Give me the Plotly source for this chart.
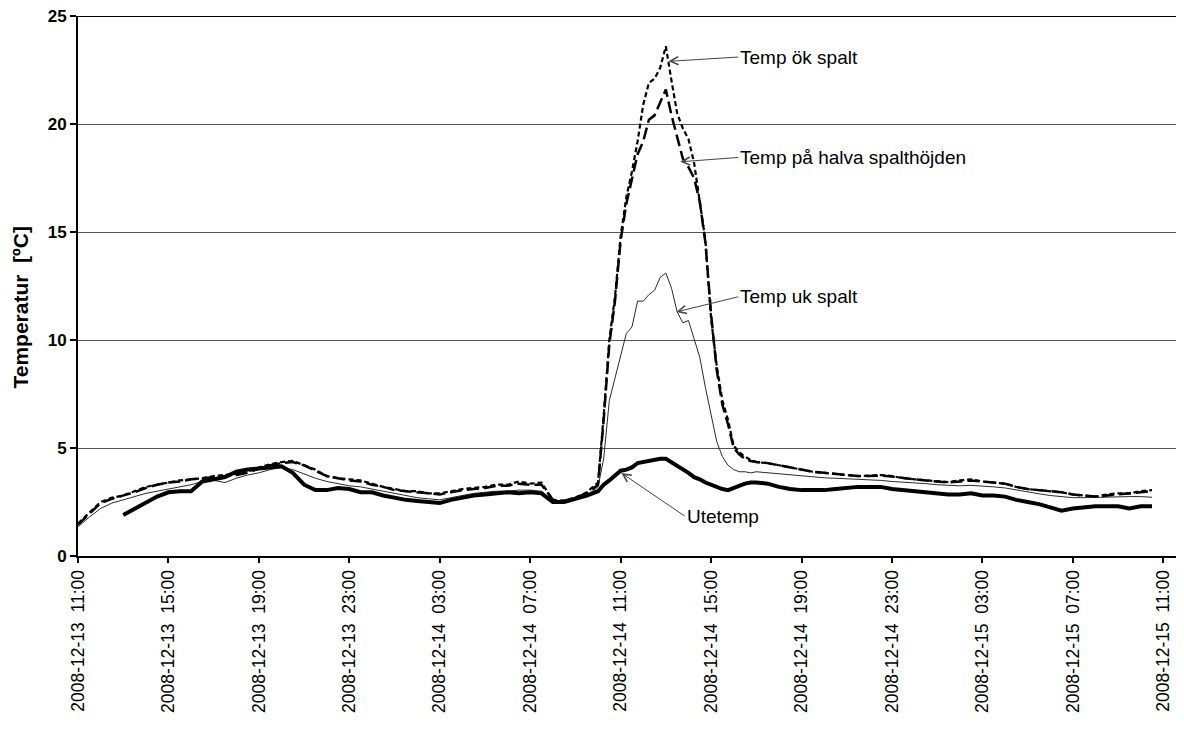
import numpy as np
import pandas as pd
import plotly.graph_objects as go

# time grid: half-hourly, quarter-hourly around the midday peak on 12-14
TIMES = list(pd.date_range("2008-12-13 11:00", "2008-12-14 09:30", freq="30min")) \
    + list(pd.date_range("2008-12-14 10:00", "2008-12-14 16:45", freq="15min")) \
    + list(pd.date_range("2008-12-14 17:00", "2008-12-15 10:30", freq="30min"))

N = None
UTETEMP = [
    N, N, N, N, 1.9, 2.2, 2.5, 2.75, 2.95, 3.0, 3.0, 3.45, 3.55, 3.65, 3.9, 4.0,
    4.05, 4.1, 4.15, 3.85, 3.3, 3.05, 3.05, 3.15, 3.1, 2.95, 2.95, 2.8, 2.7, 2.6,
    2.55, 2.5, 2.45, 2.6, 2.7, 2.8, 2.85, 2.9, 2.95, 2.9, 2.95, 2.9, 2.5, 2.5, 2.65, 2.8,
    # peak window
    3.0, 3.3, 3.5, 3.75, 3.95, 4.0, 4.1, 4.3, 4.35, 4.4, 4.45, 4.5, 4.5, 4.35,
    4.2, 4.0, 3.85, 3.65, 3.55, 3.4, 3.3, 3.2, 3.1, 3.05, 3.15, 3.25, 3.35, 3.4,
    # afternoon 12-14 -> 12-15
    3.4, 3.35, 3.2, 3.1, 3.05, 3.05, 3.05, 3.1, 3.15, 3.2, 3.2, 3.2, 3.1, 3.05,
    3.0, 2.95, 2.9, 2.85, 2.85, 2.9, 2.8, 2.8, 2.75, 2.6, 2.5, 2.4, 2.25, 2.1,
    2.2, 2.25, 2.3, 2.3, 2.3, 2.2, 2.3, 2.3,
]
UK_SPALT = [
    1.35, 1.8, 2.2, 2.45, 2.6, 2.75, 2.9, 3.0, 3.1, 3.2, 3.3, 3.45, 3.5, 3.4, 3.6, 3.75,
    3.85, 4.0, 4.1, 4.0, 3.8, 3.6, 3.45, 3.35, 3.25, 3.2, 3.1, 3.0, 2.9, 2.8,
    2.7, 2.65, 2.6, 2.7, 2.8, 2.9, 2.95, 3.0, 3.0, 3.05, 3.05, 3.0, 2.55, 2.5, 2.65, 2.8,
    3.2, 4.5, 7.2, 8.2, 9.2, 10.3, 10.6, 11.8, 11.8, 12.1, 12.3, 12.9, 13.1, 12.4,
    11.3, 10.8, 10.9, 10.1, 9.2, 7.8, 6.6, 5.3, 4.6, 4.2, 4.0, 3.9, 3.9, 3.85,
    3.9, 3.85, 3.8, 3.75, 3.7, 3.66, 3.62, 3.6, 3.58, 3.56, 3.55, 3.5, 3.45, 3.42,
    3.4, 3.35, 3.3, 3.28, 3.25, 3.27, 3.25, 3.2, 3.15, 3.05, 2.95, 2.88, 2.8, 2.75,
    2.7, 2.7, 2.72, 2.74, 2.75, 2.75, 2.75, 2.72,
]
HALVA_SPALT = [
    1.45, 1.95, 2.45, 2.65, 2.8, 2.95, 3.15, 3.3, 3.4, 3.45, 3.55, 3.6, 3.65, 3.7, 3.75, 3.85,
    4.05, 4.2, 4.3, 4.35, 4.2, 3.95, 3.7, 3.6, 3.5, 3.45, 3.3, 3.2, 3.05, 3.0,
    2.95, 2.9, 2.85, 2.95, 3.05, 3.1, 3.15, 3.25, 3.25, 3.35, 3.3, 3.3, 2.6, 2.55, 2.7, 2.9,
    3.3, 6.3, 9.8, 11.8, 14.6, 16.3, 17.4, 18.6, 19.2, 20.2, 20.4, 21.0, 21.6, 20.4,
    19.4, 18.4, 18.0, 17.5, 16.4, 14.5, 11.2, 8.6, 7.0, 6.1, 5.0, 4.7, 4.5, 4.4,
    4.35, 4.3, 4.2, 4.1, 4.0, 3.9, 3.85, 3.8, 3.75, 3.7, 3.7, 3.72, 3.68, 3.6,
    3.55, 3.5, 3.45, 3.4, 3.45, 3.5, 3.45, 3.4, 3.35, 3.2, 3.1, 3.05, 3.0, 2.95,
    2.85, 2.8, 2.75, 2.8, 2.85, 2.9, 2.95, 3.0,
]
OK_SPALT = [
    1.5, 2.0, 2.5, 2.7, 2.8, 3.0, 3.2, 3.3, 3.4, 3.5, 3.55, 3.6, 3.7, 3.75, 3.8, 3.9,
    4.1, 4.25, 4.35, 4.4, 4.2, 4.0, 3.7, 3.6, 3.55, 3.5, 3.35, 3.2, 3.1, 3.0,
    3.0, 2.9, 2.9, 3.0, 3.1, 3.15, 3.2, 3.3, 3.3, 3.45, 3.35, 3.4, 2.6, 2.55, 2.7, 2.95,
    3.4, 6.5, 10.0, 12.0, 14.8, 16.6, 17.8, 19.2, 20.9, 21.9, 22.1, 22.6, 23.6, 22.0,
    20.5, 19.8, 19.3, 18.2, 16.5, 14.6, 11.0, 8.8, 7.2, 6.3, 5.1, 4.8, 4.6, 4.45,
    4.35, 4.3, 4.2, 4.1, 4.0, 3.9, 3.85, 3.8, 3.75, 3.7, 3.72, 3.75, 3.7, 3.6,
    3.55, 3.5, 3.45, 3.42, 3.5, 3.55, 3.45, 3.4, 3.35, 3.2, 3.1, 3.05, 3.0, 2.95,
    2.85, 2.8, 2.75, 2.85, 2.9, 2.9, 3.0, 3.05,
]

TICKS = list(pd.date_range("2008-12-13 11:00", "2008-12-15 11:00", freq="4h"))
TICK_TEXT = [t.strftime("%Y-%m-%d\u00a0\u00a0%H:%M") for t in TICKS]
Y_TICKS = [0, 5, 10, 15, 20, 25]

FONT = "Liberation Sans, Arial, sans-serif"

fig = go.Figure()
fig.add_trace(go.Scatter(x=TIMES, y=UK_SPALT, mode="lines", name="Temp uk spalt",
                         line=dict(color="#2a2a2a", width=1)))
fig.add_trace(go.Scatter(x=TIMES, y=HALVA_SPALT, mode="lines", name="Temp på halva spalthöjden",
                         line=dict(color="black", width=2.5, dash="12px,5px")))
fig.add_trace(go.Scatter(x=TIMES, y=OK_SPALT, mode="lines", name="Temp ök spalt",
                         line=dict(color="black", width=2.2, dash="5px,3px")))
fig.add_trace(go.Scatter(x=TIMES, y=UTETEMP, mode="lines", name="Utetemp",
                         line=dict(color="black", width=4), connectgaps=False))

# labels with arrows: (text, point time, point value, text x, text y)
LABELS = [
    ("Temp ök spalt", "2008-12-14 13:07", 22.9, "2008-12-14 16:12", 23.1),
    ("Temp på halva spalthöjden", "2008-12-14 13:38", 18.25, "2008-12-14 16:12", 18.45),
    ("Temp uk spalt", "2008-12-14 13:28", 11.3, "2008-12-14 16:12", 12.0),
    ("Utetemp", "2008-12-14 11:02", 3.84, "2008-12-14 13:50", 1.85),
]
for text, px, py, tx, ty in LABELS:
    fig.add_annotation(x=px, y=py, ax=tx, ay=ty, axref="x", ayref="y",
                       text=text, showarrow=True, arrowhead=5, arrowsize=1.6,
                       arrowwidth=1, arrowcolor="#444", xanchor="left",
                       font=dict(family=FONT, size=19, color="black"))

fig.add_annotation(text="<b>Temperatur  [ºC]</b>", textangle=-90, showarrow=False,
                   xref="paper", yref="paper", x=-0.052, y=0.461,
                   xanchor="center", yanchor="middle",
                   font=dict(family=FONT, size=21, color="black"))

fig.add_shape(type="line", xref="paper", yref="y", x0=0, x1=1, y0=25, y1=25,
              line=dict(color="black", width=2))

fig.update_layout(
    width=1176, height=723,
    margin=dict(l=70, r=0, t=8, b=175),
    plot_bgcolor="white", paper_bgcolor="white",
    showlegend=False,
    font=dict(family=FONT, color="black"),
    xaxis=dict(
        range=["2008-12-13 11:00", "2008-12-15 11:55"],
        tickvals=TICKS, ticktext=TICK_TEXT, tickangle=-90,
        tickfont=dict(size=17.5), ticks="outside", ticklen=5, tickwidth=2,
        tickcolor="black", showline=True, linecolor="black", linewidth=2,
        showgrid=False, zeroline=False,
    ),
    yaxis=dict(
        range=[0, 25], tickvals=Y_TICKS, ticktext=[f"<b>{v}</b>" for v in Y_TICKS],
        tickfont=dict(size=17), ticklabeloverflow="allow",
        ticks="outside", ticklen=6, tickwidth=2, tickcolor="black",
        showline=True, linecolor="black", linewidth=2,
        showgrid=True, gridcolor="#555555", gridwidth=1, zeroline=False,
    ),
)

fig.write_html("out.html")
